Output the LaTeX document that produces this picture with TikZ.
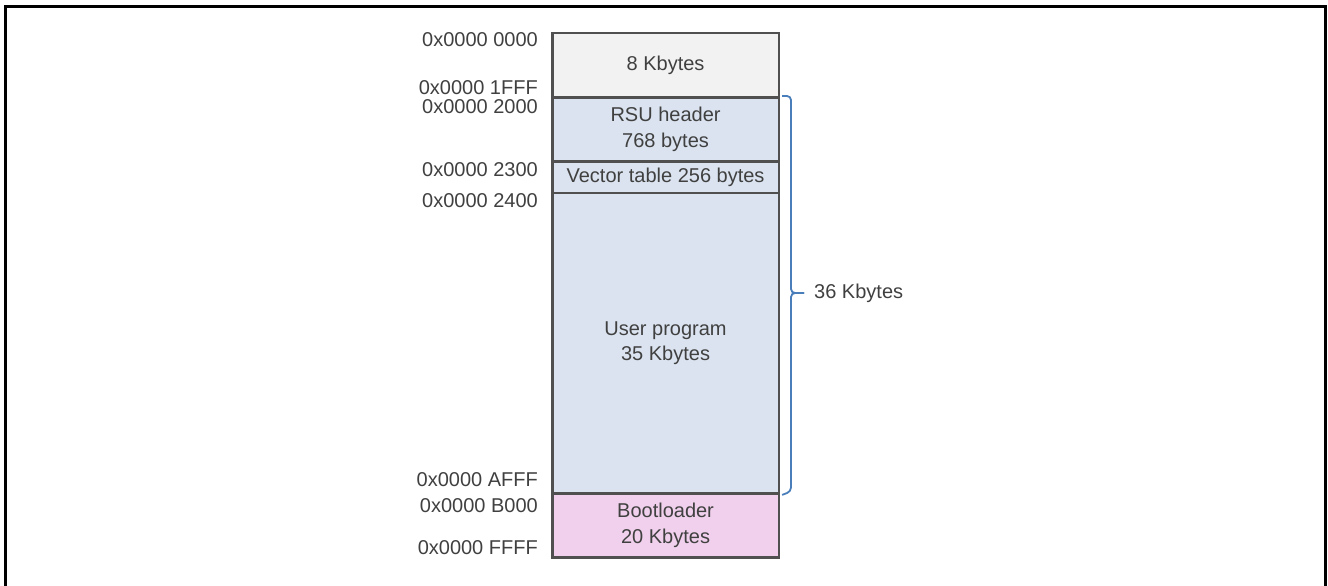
\documentclass[tikz,border=0pt]{standalone}
\usepackage{fontspec}
\setmainfont{Liberation Sans}
\definecolor{txt}{HTML}{404040}
\definecolor{edge}{HTML}{505050}
\definecolor{greyfill}{HTML}{F2F2F2}
\definecolor{bluefill}{HTML}{DAE3EF}
\definecolor{pinkfill}{HTML}{F0D0EC}
\definecolor{bracecol}{HTML}{4A7EBB}
\begin{document}
\begin{tikzpicture}[x=1pt,y=-1pt,
  every node/.style={text=txt, font=\fontsize{20}{25.5}\selectfont, inner sep=0pt},
  region/.style={draw=edge, line width=2.6pt, minimum width=226.5pt, anchor=north west, align=center},
  addr/.style={anchor=base east}]
\useasboundingbox (0,0) rectangle (1328,586);
% frame (open at the bottom)
\draw[line width=3pt] (5,586) -- (5,7) -- (1325,7) -- (1325,586);

% memory regions, top to bottom
\node[region, fill=greyfill, minimum height=64.3pt] (r0) at (551,31.7) {8 Kbytes};
\node[region, fill=bluefill, minimum height=64pt] (r1) at (551,96) {RSU header\\768 bytes};
\node[region, fill=bluefill, minimum height=31.7pt] (r2) at (551,160) {Vector table 256 bytes};
\node[region, fill=bluefill, minimum height=300.6pt] (r3) at (551,191.7) {User program\\35 Kbytes};
\node[region, fill=pinkfill, minimum height=63.7pt] (r4) at (551,492.3) {Bootloader\\20 Kbytes};

% addresses
\node[addr] (a0) at (538,46.3) {0x0000 0000};
\node[addr] (a1) at (538,94) {0x0000 1FFF};
\node[addr] (a2) at (538,113.3) {0x0000 2000};
\node[addr] (a3) at (538,176.3) {0x0000 2300};
\node[addr] (a4) at (538,207.3) {0x0000 2400};
\node[addr] (a5) at (538,486.3) {0x0000 AFFF};
\node[addr] (a6) at (538,512.3) {0x0000 B000};
\node[addr] (a7) at (538,554.3) {0x0000 FFFF};

% brace over the application area
\coordinate (bt) at ([xshift=2pt]r1.north east);
\coordinate (bb) at ([xshift=2pt]r3.south east);
\coordinate (tip) at (804,293);
\draw[bracecol, line width=1.8pt, rounded corners=4pt]
  (bt) -- (791,96) -- (791,293) -- (tip);
\draw[bracecol, line width=1.8pt, rounded corners=4pt]
  (bb) -- (791,491.5) -- (791,293) -- (tip);
\node[anchor=west] (total) at (814,293) {36 Kbytes};
\end{tikzpicture}
\end{document}
